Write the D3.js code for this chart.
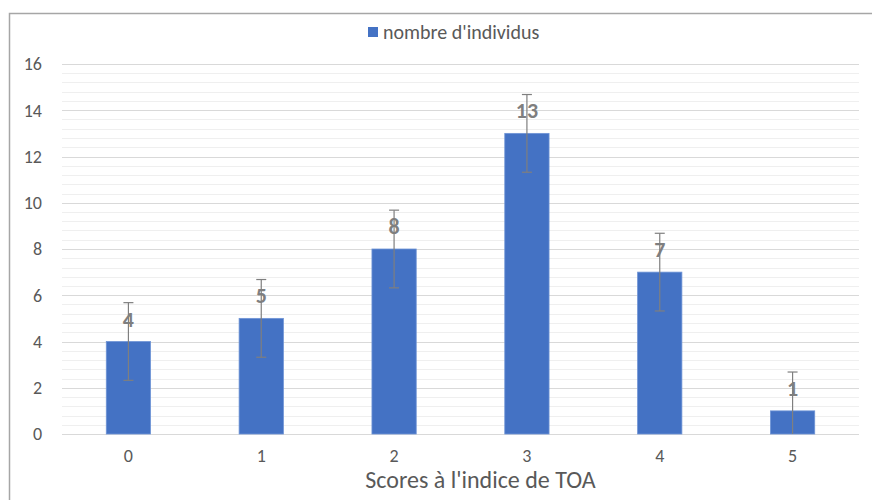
<!DOCTYPE html>
<html>
<head>
<meta charset="utf-8">
<script src="https://cdn.jsdelivr.net/npm/d3@7"></script>
<style>
  html, body { margin: 0; padding: 0; background: #fff; }
  svg { display: block; font-family: Carlito, Lato, "Liberation Sans", sans-serif; }
</style>
</head>
<body>
<div id="chart"></div>
<script>
// chart data
const scores = ["0", "1", "2", "3", "4", "5"];
const counts = [4, 5, 8, 13, 7, 1];
const errors = [1.68, 1.68, 1.68, 1.68, 1.68, 1.68];
const yTicks = [0, 2, 4, 6, 8, 10, 12, 14, 16];
const seriesName = "nombre d'individus";
const xTitle = "Scores à l'indice de TOA";

const width = 872, height = 500;
const margin = { top: 64, right: 13, bottom: 66, left: 62 };
const barColor = "#4472C4";
const textColor = "#595959";

const svg = d3.select("#chart").append("svg")
  .attr("width", width)
  .attr("height", height);

// outer frame
svg.append("rect")
  .attr("x", 9.5).attr("y", 13.5)
  .attr("width", width).attr("height", height)
  .attr("fill", "none")
  .attr("stroke", "#a6a6a6")
  .attr("stroke-width", 1.5);

const innerW = width - margin.left - margin.right;
const innerH = height - margin.top - margin.bottom;
const g = svg.append("g").attr("transform", `translate(${margin.left},${margin.top})`);

const x = d3.scaleBand().domain(scores).range([0, innerW]).paddingInner(0).paddingOuter(0);
const y = d3.scaleLinear().domain([0, 16]).range([innerH, 0]);
const barW = x.bandwidth() / 3;

// minor gridlines
const minor = d3.range(0, 16.001, 0.4).filter(v => Math.abs(v / 2 - Math.round(v / 2)) > 0.01);
g.selectAll(".minor").data(minor).enter().append("line")
  .attr("x1", 0).attr("x2", innerW)
  .attr("y1", d => Math.round(y(d)) + 0.5).attr("y2", d => Math.round(y(d)) + 0.5)
  .attr("stroke", "#efefef").attr("stroke-width", 1);

// major gridlines
g.selectAll(".major").data(yTicks).enter().append("line")
  .attr("x1", 0).attr("x2", innerW)
  .attr("y1", d => Math.round(y(d)) + 0.5).attr("y2", d => Math.round(y(d)) + 0.5)
  .attr("stroke", "#d9d9d9").attr("stroke-width", 1);

// y tick labels
g.selectAll(".ytick").data(yTicks).enter().append("text")
  .attr("x", -20).attr("y", d => y(d))
  .attr("dy", "0.35em")
  .attr("text-anchor", "end")
  .attr("fill", textColor)
  .style("font-size", "18px")
  .text(d => d);

// bars
g.selectAll(".bar").data(counts).enter().append("rect")
  .attr("x", (d, i) => x(scores[i]) + (x.bandwidth() - barW) / 2)
  .attr("y", d => y(d))
  .attr("width", barW)
  .attr("height", d => innerH - y(d))
  .attr("fill", barColor)
  .attr("stroke", "#6f94d6")
  .attr("stroke-width", 0.8);

// data labels
g.selectAll(".lbl").data(counts).enter().append("text")
  .attr("x", (d, i) => x(scores[i]) + x.bandwidth() / 2)
  .attr("y", d => y(d) - 15)
  .attr("text-anchor", "middle")
  .attr("fill", "#7f7f7f")
  .style("font-size", "22px")
  .style("font-weight", "bold")
  .text(d => d);

// error bars
const eb = g.selectAll(".err").data(counts).enter().append("g")
  .attr("transform", (d, i) => `translate(${x(scores[i]) + x.bandwidth() / 2},0)`);
eb.append("line")
  .attr("y1", (d, i) => y(d + errors[i])).attr("y2", (d, i) => y(Math.max(0, d - errors[i])))
  .attr("stroke", "#7f7f7f").attr("stroke-width", 1.2);
eb.append("line")
  .attr("x1", -5).attr("x2", 5)
  .attr("y1", (d, i) => y(d + errors[i])).attr("y2", (d, i) => y(d + errors[i]))
  .attr("stroke", "#7f7f7f").attr("stroke-width", 1.2);
eb.filter(d => d - 1.68 > 0).append("line")
  .attr("x1", -5).attr("x2", 5)
  .attr("y1", (d, i) => y(d - errors[i])).attr("y2", (d, i) => y(d - errors[i]))
  .attr("stroke", "#7f7f7f").attr("stroke-width", 1.2);

// x tick labels
g.selectAll(".xtick").data(scores).enter().append("text")
  .attr("x", d => x(d) + x.bandwidth() / 2)
  .attr("y", innerH + 28)
  .attr("text-anchor", "middle")
  .attr("fill", textColor)
  .style("font-size", "18px")
  .text(d => d);

// x axis title
g.append("text")
  .attr("x", innerW / 2 + 20)
  .attr("y", innerH + 54)
  .attr("text-anchor", "middle")
  .attr("fill", textColor)
  .style("font-size", "24px")
  .text(xTitle);

// legend
const leg = svg.append("g").attr("transform", "translate(368,27)");
leg.append("rect").attr("width", 10).attr("height", 10).attr("fill", barColor);
leg.append("text")
  .attr("x", 15).attr("y", 5).attr("dy", "0.35em")
  .attr("fill", textColor)
  .style("font-size", "20px")
  .text(seriesName);
</script>
</body>
</html>
